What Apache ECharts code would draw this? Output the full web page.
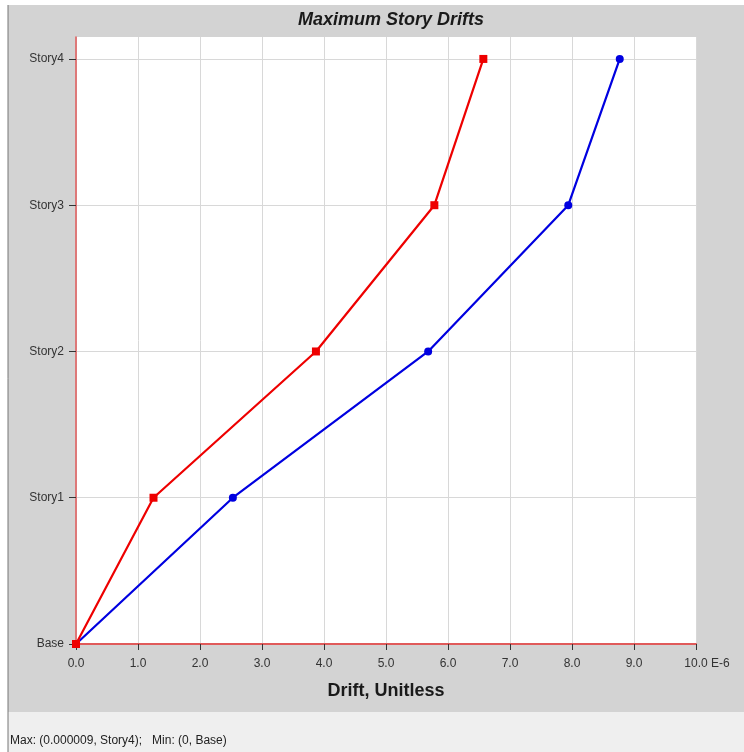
<!DOCTYPE html>
<html>
<head>
<meta charset="utf-8">
<script src="https://cdn.jsdelivr.net/npm/echarts@6/dist/echarts.min.js"></script>
<style>
  html, body { margin: 0; padding: 0; background: #ffffff; }
  #chart { width: 744px; height: 752px; }
</style>
</head>
<body>
<div id="chart"></div>
<script>
// story levels, bottom to top
var stories = ['Base', 'Story1', 'Story2', 'Story3', 'Story4'];
var storyIdx = [0, 1, 2, 3, 4];
// drift values (x 1E-6)
var driftRed = [0, 1.25, 3.87, 5.78, 6.57];
var driftBlue = [0, 2.53, 5.68, 7.94, 8.77];

function toPoints(vals) {
  return vals.map(function (v, i) { return [v, i]; });
}

var chart = echarts.init(document.getElementById('chart'));
chart.setOption({
  animation: false,
  backgroundColor: '#ffffff',
  textStyle: { fontFamily: 'Liberation Sans, Arial, sans-serif' },
  title: {
    text: 'Maximum Story Drifts',
    left: 386,
    textAlign: 'center',
    top: 6,
    textStyle: { fontSize: 18, fontWeight: 'bold', fontStyle: 'italic', color: '#1a1a1a' }
  },
  graphic: [
    { type: 'rect', z: -10, shape: { x: 0, y: 5, width: 744, height: 707 }, style: { fill: '#d3d3d3' } },
    { type: 'rect', z: -10, shape: { x: 0, y: 712, width: 744, height: 40 }, style: { fill: '#efefef' } },
    { type: 'rect', z: -10, shape: { x: 0, y: 0, width: 8, height: 752 }, style: { fill: '#ffffff' } },
    { type: 'line', z: 10, shape: { x1: 8, y1: 5, x2: 8, y2: 752 }, style: { stroke: '#777777', lineWidth: 1 } },
    { type: 'text', z: 10, left: 711, top: 658, style: { text: 'E-6', fill: '#333', font: '12px Liberation Sans, Arial, sans-serif' } },
    { type: 'text', z: 10, left: 10, top: 735, style: { text: 'Max: (0.000009, Story4);   Min: (0, Base)', fill: '#222', font: '12px Liberation Sans, Arial, sans-serif' } }
  ],
  grid: { left: 76, right: 48, top: 37, bottom: 108, show: true, backgroundColor: '#ffffff', borderWidth: 0 },
  xAxis: {
    type: 'value',
    min: 0,
    max: 10,
    interval: 1,
    name: 'Drift, Unitless',
    nameLocation: 'middle',
    nameGap: 38,
    nameTextStyle: { fontSize: 18, fontWeight: 'bold', color: '#1a1a1a' },
    axisLine: { show: true, onZero: false, lineStyle: { color: '#e05a5a', width: 2 } },
    axisTick: { show: true, length: 6, lineStyle: { color: '#333' } },
    axisLabel: {
      color: '#333', fontSize: 12, margin: 14,
      formatter: function (v) { return v.toFixed(1); }
    },
    splitLine: { show: true, lineStyle: { color: '#d8d8d8', width: 1 } }
  },
  yAxis: {
    type: 'value',
    min: 0,
    max: 4.15,
    interval: 1,
    axisLine: { show: true, onZero: false, lineStyle: { color: '#e05a5a', width: 1.5 } },
    axisTick: { show: true, length: 7, customValues: storyIdx, lineStyle: { color: '#333' } },
    axisLabel: {
      color: '#333', fontSize: 12, margin: 12, customValues: storyIdx,
      formatter: function (v) { return stories[v]; }
    },
    splitLine: { show: true, lineStyle: { color: '#d8d8d8', width: 1 } }
  },
  series: [
    {
      type: 'line',
      data: toPoints(driftBlue),
      symbol: 'circle',
      symbolSize: 8,
      itemStyle: { color: '#0000e0' },
      lineStyle: { color: '#0000e0', width: 2.2 },
      z: 3
    },
    {
      type: 'line',
      data: toPoints(driftRed),
      symbol: 'rect',
      symbolSize: 8,
      itemStyle: { color: '#ee0000' },
      lineStyle: { color: '#ee0000', width: 2.2 },
      z: 4
    }
  ]
});
</script>
</body>
</html>
